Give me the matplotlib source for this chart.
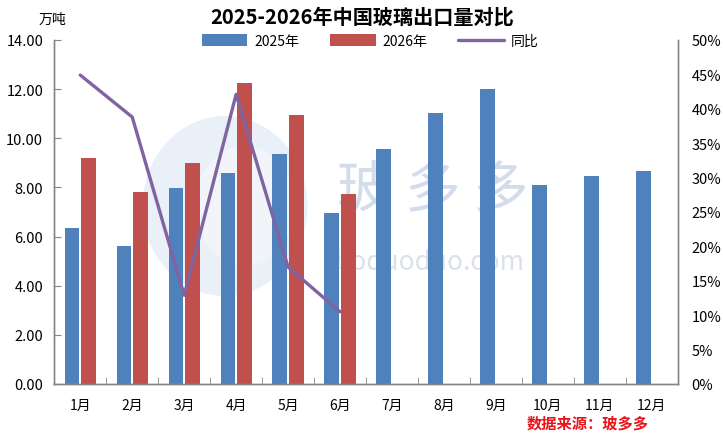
import matplotlib
matplotlib.use("Agg")
import matplotlib.pyplot as plt
import numpy as np
from matplotlib.patches import Ellipse
from matplotlib.ticker import FuncFormatter, MultipleLocator

plt.rcParams["font.family"] = ["Noto Sans CJK SC", "DejaVu Sans"]

months = ["1月", "2月", "3月", "4月", "5月", "6月",
          "7月", "8月", "9月", "10月", "11月", "12月"]
export_2025 = [6.35, 5.62, 7.98, 8.58, 9.36, 6.96,
               9.58, 11.02, 12.02, 8.10, 8.46, 8.67]
export_2026 = [9.20, 7.82, 8.98, 12.25, 10.95, 7.72]
yoy_pct = [44.9, 38.8, 12.9, 42.1, 17.0, 10.5]

BLUE = "#4F81BD"
RED = "#C0504D"
PURPLE = "#8064A2"
SPINE = "#868686"

W, H = 723, 439
fig = plt.figure(figsize=(W / 100, H / 100), dpi=100)
ax = fig.add_axes([54.3 / W, 1 - 385 / H, (677.7 - 54.3) / W, (385 - 41) / H])
ax2 = ax.twinx()

x = np.arange(len(months))
x26 = np.arange(len(export_2026))
bw = 0.28
off = 0.16

# faint watermark behind the bars
ax.add_patch(Ellipse((225 / W, 1 - 207 / H), 165 / W, 180 / H,
                     transform=fig.transFigure, facecolor="#d8e5f2",
                     edgecolor="none", alpha=0.55, zorder=0))
ax.add_patch(Ellipse((245 / W, 1 - 207 / H), 100 / W, 120 / H,
                     transform=fig.transFigure, facecolor="#f3f6fa",
                     edgecolor="none", alpha=0.9, zorder=0))
ax.text(433 / W, 1 - 190 / H, "玻 多 多", transform=fig.transFigure,
        fontsize=40, color="#d3dcea", ha="center", va="center", zorder=0)
ax.text(430 / W, 1 - 263 / H, "boduoduo.com", transform=fig.transFigure,
        fontsize=19, color="#dce1e8", ha="center", va="center", zorder=0)

ax.bar(x - off, export_2025, width=bw, color=BLUE, label="2025年", zorder=2)
ax.bar(x26 + off, export_2026, width=bw, color=RED, label="2026年", zorder=2)
ax2.plot(x26, yoy_pct, color=PURPLE, linewidth=2.4, label="同比",
         solid_capstyle="round")

ax.set_xlim(-0.5, len(months) - 0.5)
ax.set_ylim(0, 14)
ax2.set_ylim(0, 50)

ax.yaxis.set_major_locator(MultipleLocator(2))
ax.yaxis.set_major_formatter(FuncFormatter(lambda v, p: f"{v:.2f}"))
ax2.yaxis.set_major_locator(MultipleLocator(5))
ax2.yaxis.set_major_formatter(FuncFormatter(lambda v, p: f"{v:.0f}%"))

ax.set_xticks(x)
ax.set_xticklabels(months, fontsize=10)
ax.set_xticks(np.arange(0.5, len(months) - 1, 1.0), minor=True)
ax.tick_params(axis="x", which="major", length=0, pad=10)
ax.tick_params(axis="x", which="minor", direction="in", length=5,
               color=SPINE)
ax.tick_params(axis="y", direction="in", length=5, color=SPINE,
               labelsize=10.5, pad=8)
ax2.tick_params(axis="y", length=0, labelsize=10.5, pad=10)

for a in (ax, ax2):
    a.spines["top"].set_visible(False)
    for s in ("left", "right", "bottom"):
        a.spines[s].set_color(SPINE)
        a.spines[s].set_linewidth(1.0)

fig.text(362 / W, 1 - 17 / H, "2025-2026年中国玻璃出口量对比",
         fontsize=14.5, fontweight="bold", ha="center", va="center")
fig.text(52 / W, 1 - 20 / H, "万吨", fontsize=10, ha="center", va="center")

h1, l1 = ax.get_legend_handles_labels()
h2, l2 = ax2.get_legend_handles_labels()
fig.legend(h1 + h2, l1 + l2, loc="center", bbox_to_anchor=(370 / W, 1 - 42 / H),
           ncol=3, frameon=False, fontsize=10, handlelength=3.3,
           handleheight=0.9, columnspacing=2.2, handletextpad=0.5)

fig.text(588 / W, 1 - 424 / H, "数据来源：玻多多", fontsize=11,
         fontweight="bold", fontstyle="italic", color="#E8141B",
         ha="center", va="center")

fig.savefig("out.png", dpi=100)
